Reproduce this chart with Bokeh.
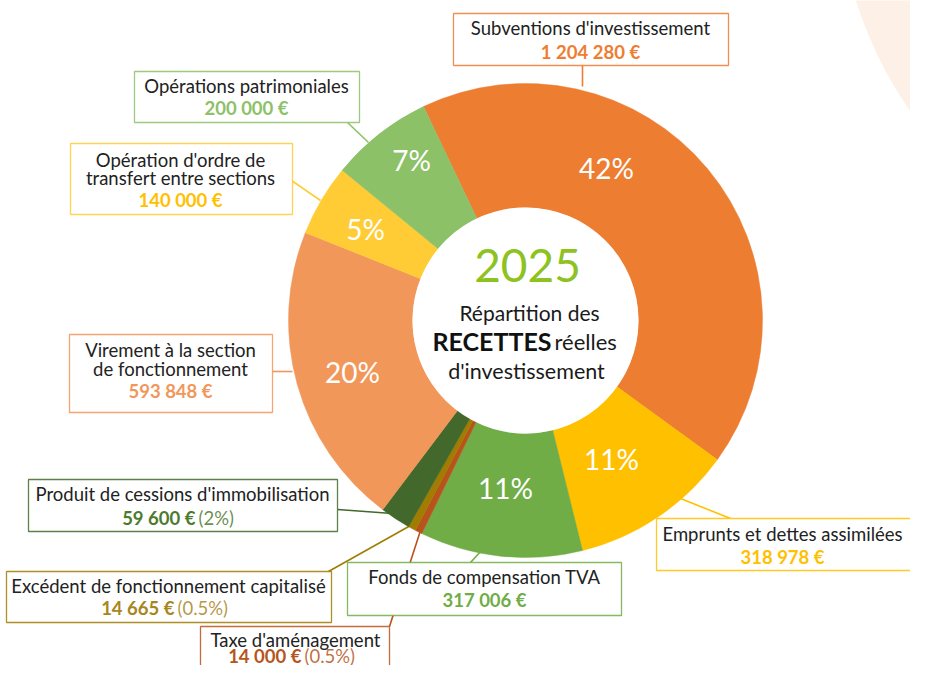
from bokeh.plotting import figure
from bokeh.models import Range1d
from bokeh.core.properties import value
from bokeh.embed import file_html
from bokeh.resources import INLINE
import math

# ---------------- data ----------------
categories = [
    "Subventions d'investissement",
    "Emprunts et dettes assimilées",
    "Fonds de compensation TVA",
    "Taxe d'aménagement",
    "Excédent de fonctionnement capitalisé",
    "Produit de cessions d'immobilisation",
    "Virement à la section de fonctionnement",
    "Opération d'ordre de transfert entre sections",
    "Opérations patrimoniales",
]
amounts = [1204280, 318978, 317006, 14000, 14665, 59600, 593848, 140000, 200000]
pct_labels = ["42%", "11%", "11%", "0.5%", "0.5%", "2%", "20%", "5%", "7%"]
slice_colors = ["#ED7D31", "#FFC000", "#70AD47", "#B8531B", "#A07C00",
                "#43682B", "#F1975A", "#FFCC36", "#8DC167"]
value_colors = ["#ED7D31", "#FFC000", "#70AD47", "#B5561C", "#A8861E",
                "#4E7A2E", "#F1975A", "#FFC000", "#8DC167"]
# label lines as shown in the boxes
label_lines = [
    ["Subventions d'investissement"],
    ["Emprunts et dettes assimilées"],
    ["Fonds de compensation TVA"],
    ["Taxe d'aménagement"],
    ["Excédent de fonctionnement capitalisé"],
    ["Produit de cessions d'immobilisation"],
    ["Virement à la section", "de fonctionnement"],
    ["Opération d'ordre de", "transfert entre sections"],
    ["Opérations patrimoniales"],
]
show_pct_in_label = [False, False, False, True, True, True, False, False, False]
show_pct_in_slice = [True, True, True, False, False, False, True, True, True]
year_label = "2025"

# ---------------- layout (reference pixel space, y flipped) ----------------
H = 681
def Y(y):
    return H - y

CX, CY = 525, Y(320)
R_OUT, R_IN = 237, 113
START_DEG = 115.5

FONT = value("Lato")
LBL = "18.5px"

p = figure(width=910, height=665, x_range=Range1d(0, 910), y_range=Range1d(H - 665, H),
           output_backend="svg", toolbar_location=None, min_border=0)
p.axis.visible = False
p.grid.visible = False
p.outline_line_color = None
p.background_fill_color = "white"
p.border_fill_color = "white"

# decorative background arc
p.circle(x=[1240], y=[Y(-120)], radius=403, fill_color="#FDF1E7", line_color=None)

# wedge angles
total = sum(amounts)
starts, ends = [], []
acc = 0.0
for a in amounts:
    s = math.radians(START_DEG) - acc / total * 2 * math.pi
    acc += a
    e = math.radians(START_DEG) - acc / total * 2 * math.pi
    starts.append(s)
    ends.append(e)

# leader lines (order as categories)
leaders = [
    ((582, 65), (582, 86)),
    ((730, 518), (680, 498)),
    ((470, 562), (482, 549)),
    ((389, 626), (420, 530)),
    ((328, 571), (410, 525)),
    ((337, 509), (392, 513)),
    ((272, 371), (292, 371)),
    ((291, 180), (320, 200)),
    ((347, 122), (368, 142)),
]
p.segment(x0=[l[0][0] for l in leaders], y0=[Y(l[0][1]) for l in leaders],
          x1=[l[1][0] for l in leaders], y1=[Y(l[1][1]) for l in leaders],
          line_color=slice_colors, line_width=1.6)

p.annular_wedge(x=CX, y=CY, inner_radius=R_IN, outer_radius=R_OUT,
                start_angle=starts, end_angle=ends, direction="clock",
                fill_color=slice_colors, line_color=slice_colors, line_width=0.5)
p.circle(x=[CX], y=[CY], radius=R_IN, fill_color="white", line_color=None)

# percentage labels in slices
pct_pos = [(606, 167), (611, 458), (505, 487), None, None, None, (352, 371), (365, 228), (411, 159)]
px, py, pt = [], [], []
for i, pos in enumerate(pct_pos):
    if show_pct_in_slice[i] and pos:
        px.append(pos[0]); py.append(Y(pos[1])); pt.append(pct_labels[i])
p.text(x=px, y=py, text=pt, text_color="white", text_font=FONT, text_font_size="28px",
       text_align="center", text_baseline="middle")

# centre text
p.text(x=[527], y=[Y(265)], text=[year_label], text_color="#8DC21F", text_font=FONT,
       text_font_size="46px", text_align="center", text_baseline="middle")
p.text(x=[529], y=[Y(312)], text=["Répartition des"], text_color="#1A1A1A", text_font=FONT,
       text_font_size="21px", text_align="center", text_baseline="middle")
p.text(x=[551], y=[Y(340)], text=["RECETTES"], text_color="#111111", text_font=FONT,
       text_font_size="25px", text_font_style="bold", text_align="right", text_baseline="middle")
p.text(x=[554], y=[Y(341)], text=["réelles"], text_color="#1A1A1A", text_font=FONT,
       text_font_size="22px", text_align="left", text_baseline="middle")
p.text(x=[526], y=[Y(370)], text=["d'investissement"], text_color="#1A1A1A", text_font=FONT,
       text_font_size="21.5px", text_align="center", text_baseline="middle")

# label boxes: left, right, top, bottom (reference px)
boxes = [
    (453, 728, 13, 65),
    (656, 940, 518, 570),
    (347, 621, 562, 615),
    (200, 389, 626, 700),
    (6, 331, 571, 622),
    (28, 337, 479, 531),
    (69, 272, 334, 412),
    (70, 292, 143, 214),
    (134, 359, 71, 122),
]
p.quad(left=[b[0] for b in boxes], right=[b[1] for b in boxes],
       top=[Y(b[2]) for b in boxes], bottom=[Y(b[3]) for b in boxes],
       fill_color="white", line_color=slice_colors, line_width=1.3, line_alpha=0.85)

# text positions: centre x, first line y, line step, value y
text_pos = [
    (590, 27, 0, 51),
    (782, 533, 0, 556),
    (484, 576, 0, 599),
    (295, 639, 0, 655),
    (168, 585, 0, 607),
    (182, 493, 0, 517),
    (170, 349, 19, 390),
    (180, 159, 18, 199),
    (246, 85, 0, 107),
]
lx, ly, lt = [], [], []
for i, lines in enumerate(label_lines):
    cx, y0, step, vy = text_pos[i]
    for k, ln in enumerate(lines):
        lx.append(cx); ly.append(Y(y0 + k * step)); lt.append(ln)
p.text(x=lx, y=ly, text=lt, text_color="#222222", text_font=FONT, text_font_size=LBL,
       text_align="center", text_baseline="middle")

def fmt(v):
    return f"{v:,}".replace(",", " ") + " €"

# values
cv_x, cv_y, cv_t, cv_c = [], [], [], []
sv_x, sv_y, sv_t, sv_c = [], [], [], []
sp_x, sp_y, sp_t, sp_c = [], [], [], []
split_x = {3: 301, 4: 174, 5: 195}
for i, a in enumerate(amounts):
    cx, y0, step, vy = text_pos[i]
    if show_pct_in_label[i]:
        sx = split_x[i]
        sv_x.append(sx); sv_y.append(Y(vy)); sv_t.append(fmt(a)); sv_c.append(value_colors[i])
        sp_x.append(sx + 3); sp_y.append(Y(vy)); sp_t.append(f"({pct_labels[i]})"); sp_c.append(value_colors[i])
    else:
        cv_x.append(cx); cv_y.append(Y(vy)); cv_t.append(fmt(a)); cv_c.append(value_colors[i])

p.text(x=cv_x, y=cv_y, text=cv_t, text_color=cv_c, text_font=FONT, text_font_size=LBL,
       text_font_style="bold", text_align="center", text_baseline="middle")
p.text(x=sv_x, y=sv_y, text=sv_t, text_color=sv_c, text_font=FONT, text_font_size=LBL,
       text_font_style="bold", text_align="right", text_baseline="middle")
p.text(x=sp_x, y=sp_y, text=sp_t, text_color=sp_c, text_font=FONT, text_font_size=LBL,
       text_align="left", text_baseline="middle", text_alpha=0.85)

open("out.html", "w").write(file_html(p, INLINE))
